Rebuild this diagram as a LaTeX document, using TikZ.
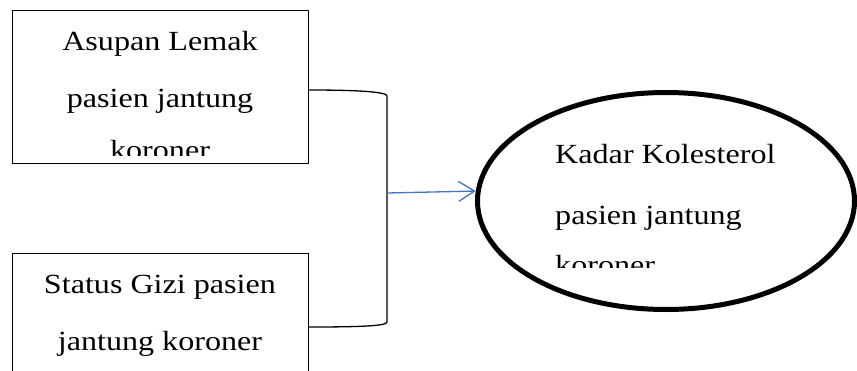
\documentclass[tikz,border=0pt]{standalone}
\usepackage{fontspec}
\newfontfamily\tnr[FakeStretch=1.16]{Liberation Serif}
\usetikzlibrary{shapes.geometric,arrows.meta}
\definecolor{arrowblue}{RGB}{70,114,196}
\tikzset{
  boxnode/.style={draw=black, line width=1pt, rectangle, inner sep=0pt},
  ovalnode/.style={draw=black, line width=5pt, ellipse, inner sep=0pt},
  txt/.style={anchor=base, inner sep=0pt, font=\tnr\fontsize{27.7}{30}\selectfont},
  txtl/.style={anchor=base west, inner sep=0pt, font=\tnr\fontsize{27.7}{30}\selectfont},
  bracket/.style={draw=black, line width=1.3pt},
  flow/.style={draw=arrowblue, line width=1.3pt, -{Straight Barb[length=16pt,width=20pt,line width=1.3pt]}}
}
\begin{document}
\begin{tikzpicture}[x=1pt,y=-1pt]
\useasboundingbox (0,0) rectangle (857,370);
\clip (0,0) rectangle (857,370);
% boxes
\node[boxnode, minimum width=296pt, minimum height=153pt] (b1) at (160,86.5) {};
\node[boxnode, minimum width=296pt, minimum height=147pt] (b2) at (160,326.5) {};
\begin{scope}
\clip (12,10) rectangle (308,155);
\node[txt] (t1a) at (160,50) {Asupan Lemak};
\node[txt] (t1b) at (160,107) {pasien jantung};
\node[txt] (t1c) at (160,159) {koroner};
\end{scope}
\node[txt] (t2a) at (160,293) {Status Gizi pasien};
\node[txt] (t2b) at (160,350) {jantung koroner};
% ellipse
\node[ovalnode, minimum width=377pt, minimum height=217pt] (e) at (666,201) {};
\begin{scope}
\clip (540,120) rectangle (800,267);
\node[txtl] (t3a) at (555,163) {Kadar Kolesterol};
\node[txtl] (t3b) at (555,224) {pasien jantung};
\node[txtl] (t3c) at (555,274) {koroner};
\end{scope}
% bracket
\coordinate (p1) at (b1.east |- 0,90);
\coordinate (p2) at (b2.east |- 0,327);
\coordinate (q1) at (387,96);
\coordinate (q2) at (387,322);
\coordinate (m) at (387,193);
\draw[bracket] (p1) .. controls (360,90) and (387,92) .. (q1) -- (q2) .. controls (387,326) and (360,327) .. (p2);
\draw[flow] (m) -- (e.177);
\end{tikzpicture}
\end{document}
